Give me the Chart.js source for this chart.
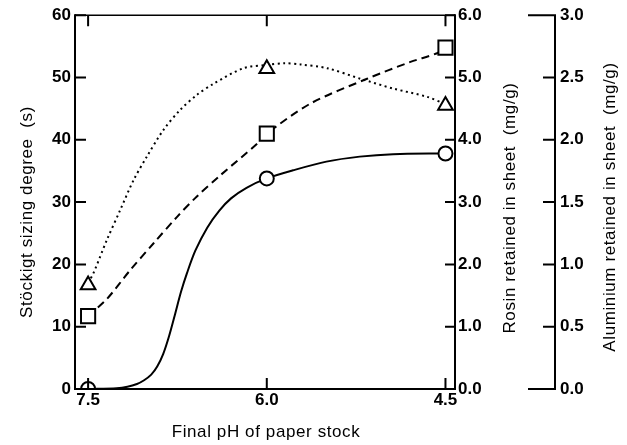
<!DOCTYPE html>
<html>
<head>
<meta charset="utf-8">
<script src="https://cdn.jsdelivr.net/npm/chart.js@4.4.1/dist/chart.umd.min.js"></script>
<style>
  html, body { margin: 0; padding: 0; background: #fff; }
  canvas { display: block; }
</style>
</head>
<body>
<canvas id="c" width="627" height="445"></canvas>
<script>
// ---- Data ----
const xTickValues = [7.5, 6.0, 4.5];
const markerPH = [7.5, 6.0, 4.5];
const sizingDegree = [0, 33.8, 37.8];          // s (left axis)
const rosinRetained = [1.17, 4.10, 5.48];      // mg/g (rosin axis)
const aluminiumRetained = [0.835, 2.57, 2.275]; // mg/g (aluminium axis)

// Traced curves
const sizingCurvePH = [7.5, 7.26, 7.17, 7.09, 7.03, 6.97, 6.92, 6.87, 6.82, 6.77, 6.72, 6.67, 6.6, 6.5, 6.4, 6.3, 6.17, 6.0, 5.78, 5.5, 5.22, 4.94, 4.5];
const sizingCurve   = [0, 0.12, 0.35, 0.8, 1.4, 2.3, 3.6, 5.6, 8.5, 12.0, 15.6, 18.6, 22.2, 25.9, 28.6, 30.6, 32.3, 33.8, 35.1, 36.5, 37.3, 37.7, 37.8];

const rosinCurvePH = [7.5, 7.34, 7.15, 6.95, 6.755, 6.587, 6.39, 6.08, 6.0, 5.635, 5.158, 4.794, 4.57, 4.5];
const rosinCurve   = [1.17, 1.45, 1.9, 2.34, 2.76, 3.09, 3.43, 3.94, 4.10, 4.58, 4.98, 5.25, 5.39, 5.48];

const aluCurvePH = [7.5, 7.455, 7.343, 7.231, 7.119, 7.007, 6.867, 6.727, 6.587, 6.447, 6.195, 6.0, 5.85, 5.718, 5.494, 5.214, 4.934, 4.654, 4.5];
const aluCurve   = [0.85, 0.93, 1.195, 1.435, 1.675, 1.865, 2.08, 2.24, 2.36, 2.45, 2.575, 2.6, 2.615, 2.605, 2.575, 2.49, 2.41, 2.345, 2.285];

const xTitle = 'Final pH of paper stock';
const yTitle = 'Stöckigt sizing degree  (s)';
const y1Title = 'Rosin retained in sheet  (mg/g)';
const y2Title = 'Aluminium retained in sheet  (mg/g)';

const pts = (xs, ys) => xs.map((x, i) => ({x: x, y: ys[i]}));
const FONT = '"Liberation Sans", Arial, Helvetica, sans-serif';

const decor = {
  id: 'decor',
  afterDatasetsDraw(chart) {
    const {ctx, chartArea: a, scales} = chart;
    ctx.save();
    ctx.strokeStyle = '#000';
    ctx.lineCap = 'butt';
    // frame
    ctx.lineWidth = 2;
    ctx.beginPath();
    ctx.moveTo(a.left, a.top - 1);
    ctx.lineTo(a.left, a.bottom);
    ctx.lineTo(a.right, a.bottom);
    ctx.lineTo(a.right, a.top - 1);
    ctx.stroke();
    ctx.lineWidth = 1.6;
    ctx.beginPath();
    ctx.moveTo(a.left, a.top);
    ctx.lineTo(a.right, a.top);
    ctx.stroke();
    ctx.lineWidth = 2;
    // x ticks (top & bottom, inward)
    ctx.beginPath();
    scales.x.ticks.forEach(t => {
      const px = scales.x.getPixelForValue(t.value);
      ctx.moveTo(px, a.bottom); ctx.lineTo(px, a.bottom - 11);
      ctx.moveTo(px, a.top); ctx.lineTo(px, a.top + 11);
    });
    // left ticks inward
    scales.y.ticks.forEach(t => {
      const py = scales.y.getPixelForValue(t.value);
      ctx.moveTo(a.left, py); ctx.lineTo(a.left + 11, py);
    });
    // rosin ticks inward
    scales.y1.ticks.forEach(t => {
      const py = scales.y1.getPixelForValue(t.value);
      ctx.moveTo(a.right, py); ctx.lineTo(a.right - 10, py);
    });
    ctx.stroke();
    // aluminium axis
    const s2 = scales.y2;
    const ax = s2.left;
    ctx.beginPath();
    ctx.moveTo(ax, a.top - 1); ctx.lineTo(ax, a.bottom + 1);
    s2.ticks.forEach(t => {
      const py = s2.getPixelForValue(t.value);
      const long = (t.value === s2.min || t.value === s2.max);
      ctx.moveTo(ax, py); ctx.lineTo(ax - (long ? 27 : 12), py);
    });
    ctx.stroke();
    ctx.restore();
  },
  afterDraw(chart) {
    const {ctx, chartArea: a} = chart;
    ctx.save();
    ctx.fillStyle = '#000';
    ctx.font = '17px ' + FONT;
    try { ctx.letterSpacing = '0.6px'; } catch (e) {}
    ctx.textAlign = 'center';
    ctx.textBaseline = 'middle';
    ctx.fillText(xTitle, (a.left + a.right) / 2 + 1, 432);
    const vt = (txt, x, y) => {
      ctx.save();
      ctx.translate(x, y);
      ctx.rotate(-Math.PI / 2);
      ctx.fillText(txt, 0, 0);
      ctx.restore();
    };
    vt(yTitle, 27, 212);
    vt(y1Title, 510, 208);
    vt(y2Title, 610, 207);
    ctx.restore();
  }
};

const tickFont = {family: FONT, size: 17, weight: 'bold'};

new Chart(document.getElementById('c'), {
  type: 'line',
  data: {
    datasets: [
      {
        label: 'Sizing degree', data: pts(markerPH, sizingDegree), yAxisID: 'y',
        showLine: false, pointStyle: 'circle', pointRadius: 7, pointBorderWidth: 2,
        pointBackgroundColor: '#fff', pointBorderColor: '#000'
      },
      {
        label: 'Rosin', data: pts(markerPH, rosinRetained), yAxisID: 'y1',
        showLine: false, pointStyle: 'rect', pointRadius: 10, pointBorderWidth: 2,
        pointBackgroundColor: '#fff', pointBorderColor: '#000'
      },
      {
        label: 'Aluminium', data: pts(markerPH, aluminiumRetained), yAxisID: 'y2',
        showLine: false, pointStyle: 'triangle', pointRadius: 8.5, pointBorderWidth: 2,
        pointBackgroundColor: '#fff', pointBorderColor: '#000'
      },
      {
        label: 'Sizing curve', data: pts(sizingCurvePH, sizingCurve), yAxisID: 'y',
        borderColor: '#000', borderWidth: 2, pointRadius: 0, tension: 0.3, fill: false
      },
      {
        label: 'Rosin curve', data: pts(rosinCurvePH, rosinCurve), yAxisID: 'y1',
        borderColor: '#000', borderWidth: 2, pointRadius: 0, borderDash: [8, 5],
        tension: 0.3, fill: false
      },
      {
        label: 'Aluminium curve', data: pts(aluCurvePH, aluCurve), yAxisID: 'y2',
        borderColor: '#000', borderWidth: 2, pointRadius: 0, borderDash: [2, 3.5],
        tension: 0.3, fill: false
      }
    ]
  },
  options: {
    responsive: false,
    animation: false,
    events: [],
    devicePixelRatio: 1,
    layout: { padding: { top: 15, left: 0, right: 0, bottom: 0 } },
    plugins: { legend: { display: false }, tooltip: { enabled: false } },
    scales: {
      x: {
        type: 'linear', reverse: true, min: 4.42, max: 7.61,
        afterBuildTicks: s => { s.ticks = xTickValues.map(v => ({value: v})); },
        afterFit: s => { s.height = 56; },
        grid: { display: false, drawTicks: false }, border: { display: false },
        ticks: { font: tickFont, color: '#000', padding: 1, maxRotation: 0,
                 callback: v => Number(v).toFixed(1) }
      },
      y: {
        position: 'left', min: 0, max: 60,
        afterFit: s => { s.width = 75; },
        grid: { display: false, drawTicks: false }, border: { display: false },
        ticks: { stepSize: 10, font: tickFont, color: '#000', padding: 4 }
      },
      y1: {
        position: 'right', min: 0, max: 6,
        afterFit: s => { s.width = 100; },
        grid: { display: false, drawTicks: false }, border: { display: false },
        ticks: { stepSize: 1, font: tickFont, color: '#000', padding: 3,
                 callback: v => Number(v).toFixed(1) }
      },
      y2: {
        position: 'right', min: 0, max: 3,
        afterFit: s => { s.width = 72; },
        grid: { display: false, drawTicks: false }, border: { display: false },
        ticks: { stepSize: 0.5, font: tickFont, color: '#000', padding: 5,
                 callback: v => Number(v).toFixed(1) }
      }
    }
  },
  plugins: [decor]
});
</script>
</body>
</html>
